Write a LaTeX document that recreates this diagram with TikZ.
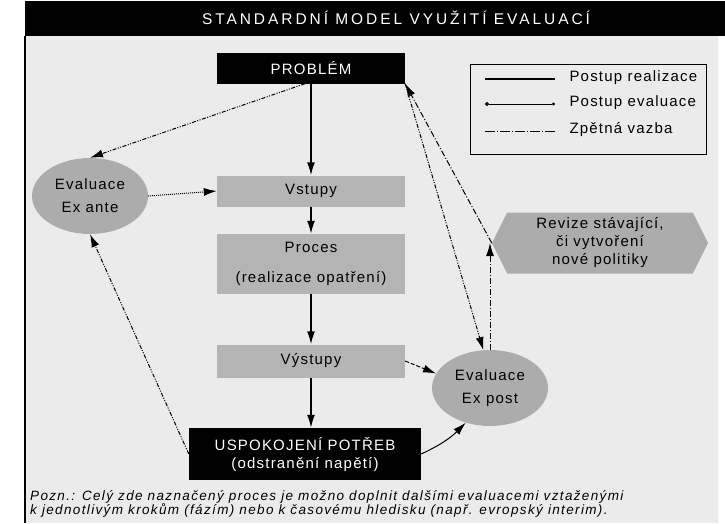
\documentclass[tikz,border=0pt]{standalone}
\usepackage{fontspec}
\setmainfont{Liberation Sans}[LetterSpace=8]
\usepackage{xcolor}
\usetikzlibrary{
    arrows.meta,
    shapes.geometric,
    shapes.symbols,
    positioning
}
\definecolor{bggray}{RGB}{235,235,235}
\definecolor{boxgray}{RGB}{180,180,180}
\definecolor{ellgray}{RGB}{172,172,172}

\begin{document}
\begin{tikzpicture}[x=1pt, y=-1pt, >={Latex[length=13pt, width=8pt]},
    font=\fontsize{15}{18}\selectfont,
    box/.style={fill=boxgray, minimum width=188pt, inner sep=0pt, align=center},
    blk/.style={fill=black, text=white, inner sep=0pt, align=center},
    ell/.style={ellipse, fill=ellgray, minimum width=116pt, minimum height=76pt, inner sep=0pt, align=center},
    real/.style={line width=1.6pt, ->},
    eval/.style={line width=1pt, dash pattern=on 4pt off 1.5pt on 1pt off 1.5pt on 1pt off 1.5pt, ->},
    feed/.style={line width=1pt, dash pattern=on 6pt off 2pt on 1pt off 2pt, ->}]
                        \useasboundingbox (0,0) rectangle (725,523);
                        \fill[bggray] (25,36) rectangle (718,523);
                        \draw[line width=1.5pt] (25,36) -- (25,523);
                        \fill[black] (25,1) rectangle (725,36);
                        \node[blk] (ttl) at (396,18) {\addfontfeature{LetterSpace=19}\fontsize{15.5}{17}\selectfont STANDARDNÍ MODEL VYUŽITÍ EVALUACÍ};
                        \node[blk, minimum width=188pt, minimum height=31pt] (prob) at (311,68) {PROBLÉM};
                        \node[box, minimum height=31pt] (vst) at (311,191) {Vstupy};
                        \node[box, minimum height=60pt] (proc) at (311,264) {Proces\\[12pt](realizace opatření)};
                        \node[box, minimum height=33pt] (vyst) at (311,361) {Výstupy};
                        \node[blk, minimum width=232pt, minimum height=52pt] (usp) at (305,454) {USPOKOJENÍ POTŘEB\\(odstranění napětí)};
                        \node[ell] (exa) at (90,196) {Evaluace\\[5pt]Ex ante};
                        \node[ell] (exp) at (490,388) {Evaluace\\[5pt]Ex post};
                        \node[signal, signal to=west and east, signal pointer angle=127, fill=ellgray,
                              minimum width=216pt, minimum height=61pt, inner sep=0pt, align=center] (rev) at (600,243)
                              {Revize stávající,\\či vytvoření\\nové politiky};
                        % legenda
                        \node[draw, line width=1pt, minimum width=236pt, minimum height=90pt] (leg) at (588,109) {};
                        \node[anchor=west] (l1) at (566,78) {Postup realizace};
                        \node[anchor=west] (l2) at (566,103) {Postup evaluace};
                        \node[anchor=west] (l3) at (566,130) {Zpětná vazba};
                        \coordinate (a1) at (485,79);
                        \coordinate (b1) at (555,79);
                        \coordinate (a2) at (485,104);
                        \coordinate (b2) at (555,104);
                        \coordinate (a3) at (485,131);
                        \coordinate (b3) at (555,131);
                        \draw[line width=2.2pt] (a1) -- (b1);
                        \draw[line width=0.8pt, {Circle[length=4pt]}-{Circle[length=3pt]}] (a2) -- (b2);
                        \draw[line width=1pt, dash pattern=on 10pt off 2pt on 1pt off 2pt] (a3) -- (b3);
                        % poznamka
                        \node[anchor=north west, align=left, inner sep=0pt, font=\itshape\addfontfeature{LetterSpace=10}\fontsize{13.5}{14}\selectfont] (pozn) at (30,490)
                              {Pozn.: Celý zde naznačený proces je možno doplnit dalšími evaluacemi vztaženými\\k jednotlivým krokům (fázím) nebo k časovému hledisku (např. evropský interim).};
                        \draw
                        (prob) edge[real] (vst)
                        (vst) edge[real] (proc)
                        (proc) edge[real] (vyst)
                        (vyst) edge[real] (vyst |- usp.north)
                        ([xshift=-6pt]prob.south) edge[eval] (exa.north)
                        (exa.east) edge[eval, densely dotted] (vst.west)
                        (usp.west) edge[eval] (exa.south)
                        (vyst.east) edge[eval, dash pattern=on 4pt off 2pt] (exp.165)
                        (usp.east) edge[line width=1pt, ->, bend right=10] (exp.235)
                        (prob.south east) edge[eval] (exp.100)
                        (rev.west) edge[feed] (prob.south east)
                        (exp.north) edge[feed] (exp.north |- rev.west);
                    \end{tikzpicture}
\end{document}
